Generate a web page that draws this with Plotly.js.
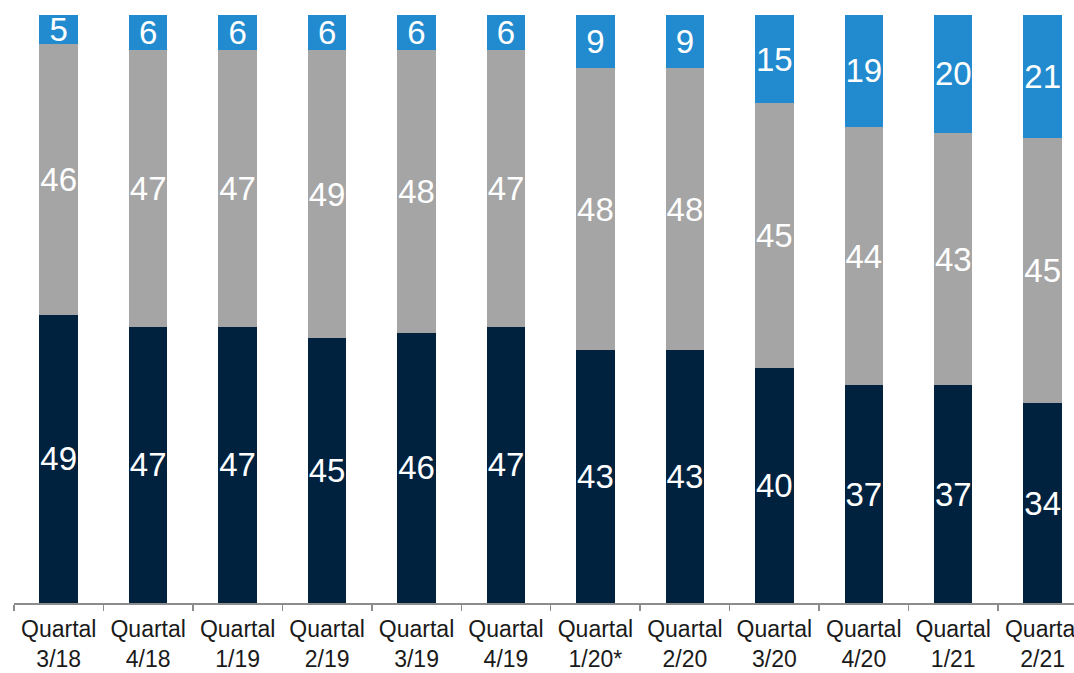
<!DOCTYPE html>
<html>
<head>
<meta charset="utf-8">
<script src="https://cdn.plot.ly/plotly-3.0.1.min.js"></script>
<style>
html,body{margin:0;padding:0;background:#fff;overflow:hidden;}
#chart{width:1074px;height:673px;}
</style>
</head>
<body>
<div id="chart"></div>
<script>
const categories = ["Quartal<br>3/18","Quartal<br>4/18","Quartal<br>1/19","Quartal<br>2/19","Quartal<br>3/19","Quartal<br>4/19","Quartal<br>1/20*","Quartal<br>2/20","Quartal<br>3/20","Quartal<br>4/20","Quartal<br>1/21","Quartal<br>2/21"];
const seriesDark = [49,47,47,45,46,47,43,43,40,37,37,34];
const seriesGray = [46,47,47,49,48,47,48,48,45,44,43,45];
const seriesBlue = [5,6,6,6,6,6,9,9,15,19,20,21];

const colors = {dark:"#00223F", gray:"#A5A5A5", blue:"#228BCF"};

function trace(vals, color){
  return {
    type:"bar",
    x:categories,
    y:vals,
    text:vals.map(String),
    textposition:"inside",
    insidetextanchor:"middle",
    constraintext:"none",
    textangle:0,
    textfont:{family:"Liberation Sans, Arial, sans-serif", size:33, color:"#ffffff"},
    marker:{color:color, line:{width:0}},
    hoverinfo:"skip"
  };
}

const data = [trace(seriesDark, colors.dark), trace(seriesGray, colors.gray), trace(seriesBlue, colors.blue)];

const layout = {
  width:1074, height:673,
  margin:{l:14, r:0, t:15, b:70, pad:0},
  barmode:"stack",
  bargap:0.57,
  showlegend:false,
  paper_bgcolor:"#ffffff",
  plot_bgcolor:"#ffffff",
  font:{family:"Liberation Sans, Arial, sans-serif", color:"#1a1a1a"},
  xaxis:{
    type:"category",
    range:[-0.5, 11.35],
    showline:true, linecolor:"#8C8C8C", linewidth:1.5,
    ticks:"outside", tickson:"boundaries", ticklen:6, tickcolor:"#8C8C8C", tickwidth:1.5,
    ticklabelstandoff:5,
    tickfont:{size:23, color:"#1a1a1a", family:"Liberation Sans, Arial, sans-serif"},
    showgrid:false, zeroline:false, fixedrange:true
  },
  yaxis:{
    range:[0,100], visible:false, showgrid:false, zeroline:false, fixedrange:true
  }
};

Plotly.newPlot("chart", data, layout, {displayModeBar:false, staticPlot:true});
</script>
</body>
</html>
